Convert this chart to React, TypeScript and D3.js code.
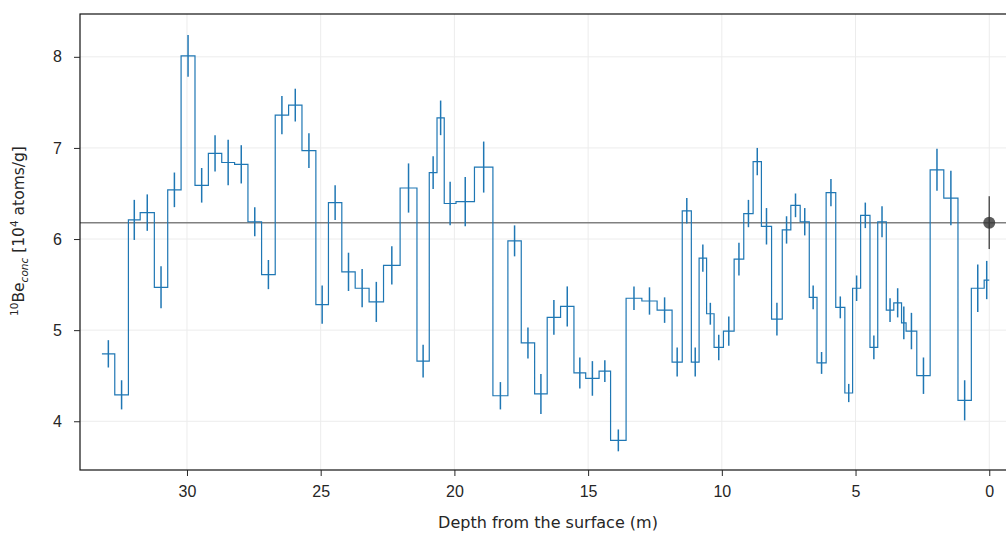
import { useEffect, useRef } from "react";
import * as d3 from "d3";

// sample boundaries (depth, m) — one more than the values
const bounds = [
  33.18, 32.7, 32.19, 31.75, 31.22, 30.72, 30.22, 29.7, 29.2, 28.7, 28.22, 27.72,
  27.21, 26.7, 26.2, 25.7, 25.18, 24.71, 24.21, 23.71, 23.19, 22.65, 22.03, 21.4,
  20.94, 20.65, 20.38, 19.94, 19.25, 18.56, 18.0, 17.5, 17.0, 16.53, 16.03, 15.53,
  15.09, 14.59, 14.16, 13.58, 12.99, 12.42, 11.86, 11.48, 11.14, 10.85, 10.57, 10.29,
  9.94, 9.54, 9.18, 8.83, 8.52, 8.14, 7.74, 7.42, 7.07, 6.73, 6.44, 6.1, 5.74, 5.4,
  5.11, 4.81, 4.46, 4.17, 3.85, 3.57, 3.28, 3.11, 2.71, 2.21, 1.7, 1.17, 0.67, 0.19, 0.0,
];

// 10Be concentration [10^4 atoms/g]
const conc = [
  4.74, 4.29, 6.21, 6.29, 5.47, 6.54, 8.01, 6.59, 6.94, 6.84, 6.82, 6.19, 5.61, 7.36,
  7.47, 6.97, 5.28, 6.4, 5.64, 5.46, 5.31, 5.71, 6.56, 4.66, 6.73, 7.33, 6.39, 6.41,
  6.79, 4.28, 5.98, 4.86, 4.3, 5.14, 5.26, 4.53, 4.47, 4.55, 3.79, 5.35, 5.32, 5.22,
  4.65, 6.31, 4.65, 5.79, 5.18, 4.81, 4.99, 5.78, 6.28, 6.85, 6.14, 5.12, 6.1, 6.37,
  6.19, 5.36, 4.64, 6.51, 5.25, 4.31, 5.46, 6.26, 4.81, 6.19, 5.22, 5.3, 5.08, 4.99,
  4.5, 6.76, 6.45, 4.23, 5.46, 5.55,
];

const concErr = [
  0.15, 0.16, 0.22, 0.2, 0.23, 0.19, 0.23, 0.19, 0.2, 0.25, 0.21, 0.16, 0.16, 0.21,
  0.18, 0.19, 0.21, 0.19, 0.21, 0.21, 0.22, 0.21, 0.27, 0.18, 0.18, 0.19, 0.24, 0.27,
  0.28, 0.15, 0.17, 0.17, 0.22, 0.19, 0.22, 0.17, 0.19, 0.12, 0.12, 0.13, 0.15, 0.14,
  0.16, 0.14, 0.16, 0.15, 0.12, 0.14, 0.16, 0.18, 0.15, 0.15, 0.2, 0.18, 0.15, 0.13,
  0.15, 0.13, 0.12, 0.15, 0.12, 0.1, 0.14, 0.14, 0.13, 0.17, 0.13, 0.16, 0.18, 0.2,
  0.2, 0.23, 0.3, 0.22, 0.26, 0.21,
];

// mean / surface value
const meanConc = 6.18;
const meanErr = 0.29;
const meanDepth = 0;

const xTicks = [30, 25, 20, 15, 10, 5, 0];
const yTicks = [4, 5, 6, 7, 8];

const width = 1006;
const height = 533;
const marginLeft = 80;
const marginTop = 14;
const plotRight = 1016;
const plotBottom = 470;

export default function App() {
  const gx = useRef<SVGGElement>(null);
  const gy = useRef<SVGGElement>(null);

  const x = d3.scaleLinear().domain([34, -1]).range([marginLeft, plotRight]);
  const y = d3.scaleLinear().domain([3.465, 8.47]).range([plotBottom, marginTop]);

  useEffect(() => {
    const ax = d3.select(gx.current!);
    ax.call(
      d3.axisBottom(x).tickValues(xTicks).tickFormat(d3.format("d")).tickSize(6).tickPadding(10)
    );
    ax.select(".domain").remove();
    ax.selectAll("text").attr("font-size", 16).attr("fill", "#262626");
    ax.selectAll("line").attr("stroke", "#262626");
    const ay = d3.select(gy.current!);
    ay.call(
      d3.axisLeft(y).tickValues(yTicks).tickFormat(d3.format("d")).tickSize(6).tickPadding(12)
    );
    ay.select(".domain").remove();
    ay.selectAll("text").attr("font-size", 16).attr("fill", "#262626");
    ay.selectAll("line").attr("stroke", "#262626");
  }, []);

  const pts: [number, number][] = [];
  conc.forEach((v, i) => {
    pts.push([bounds[i], v]);
    pts.push([bounds[i + 1], v]);
  });
  const line = d3
    .line<[number, number]>()
    .x((d) => x(d[0]))
    .y((d) => y(d[1]));

  return (
    <svg
      width={width}
      height={height}
      style={{ position: "absolute", left: 0, top: 0, background: "white" }}
      fontFamily="DejaVu Sans"
    >
      {/* grid */}
      <g stroke="#ececec" strokeWidth={1}>
        {xTicks.map((t) => (
          <line key={"gx" + t} x1={x(t)} x2={x(t)} y1={marginTop} y2={plotBottom} />
        ))}
        {yTicks.map((t) => (
          <line key={"gy" + t} x1={marginLeft} x2={plotRight} y1={y(t)} y2={y(t)} />
        ))}
      </g>

      <line
        x1={marginLeft}
        x2={plotRight}
        y1={y(meanConc)}
        y2={y(meanConc)}
        stroke="#808080"
        strokeWidth={1.5}
      />

      <path d={line(pts) ?? ""} fill="none" stroke="#1f77b4" strokeWidth={1.2} />
      {conc.map((v, i) => {
        const m = (bounds[i] + bounds[i + 1]) / 2;
        return (
          <line
            key={i}
            x1={x(m)}
            x2={x(m)}
            y1={y(v - concErr[i])}
            y2={y(v + concErr[i])}
            stroke="#1f77b4"
            strokeWidth={1.5}
          />
        );
      })}

      <line
        x1={x(meanDepth)}
        x2={x(meanDepth)}
        y1={y(meanConc - meanErr)}
        y2={y(meanConc + meanErr)}
        stroke="#555"
        strokeWidth={1.5}
      />
      <circle cx={x(meanDepth)} cy={y(meanConc)} r={6} fill="#333" fillOpacity={0.8} />

      {/* spines */}
      <rect
        x={marginLeft}
        y={marginTop}
        width={plotRight - marginLeft}
        height={plotBottom - marginTop}
        fill="none"
        stroke="#111"
        strokeWidth={1.2}
      />

      <g ref={gx} transform={`translate(0,${plotBottom})`} />
      <g ref={gy} transform={`translate(${marginLeft},0)`} />

      <text
        x={(marginLeft + plotRight) / 2}
        y={528}
        textAnchor="middle"
        fontSize={16}
        fill="#262626"
      >
        Depth from the surface (m)
      </text>
      <text
        transform={`translate(24,231) rotate(-90)`}
        textAnchor="middle"
        fontSize={15.5}
        fill="#262626"
      >
        <tspan fontSize={10.5} dy={-6}>10</tspan>
        <tspan dy={6}>Be</tspan>
        <tspan fontSize={10.5} fontStyle="italic" dy={4}>conc</tspan>
        <tspan dy={-4}> [10</tspan>
        <tspan fontSize={10.5} dy={-6}>4</tspan>
        <tspan dy={6}> atoms/g]</tspan>
      </text>
    </svg>
  );
}
